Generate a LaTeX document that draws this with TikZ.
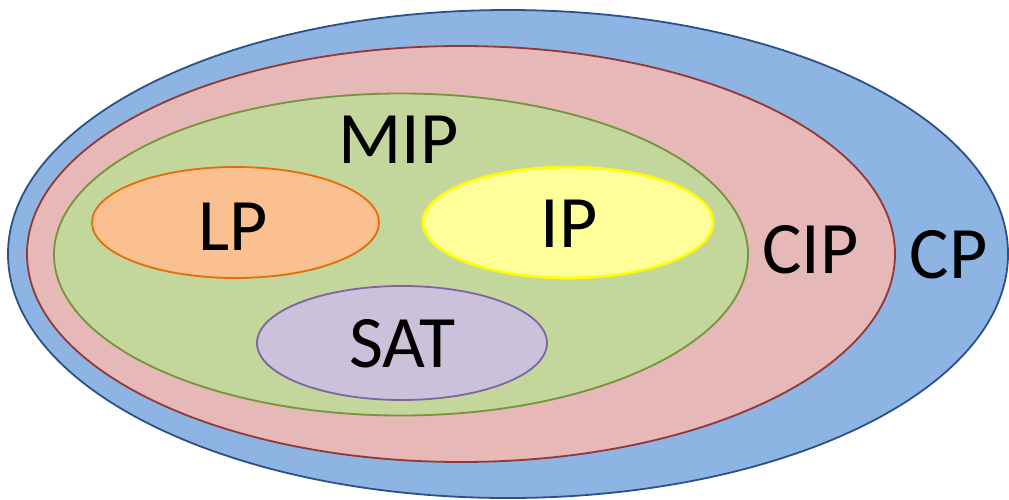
\documentclass[tikz,border=0pt]{standalone}
\usepackage{fontspec}
\setmainfont{Carlito}
\usetikzlibrary{shapes.geometric}
\definecolor{cpfill}{HTML}{8EB4E3}
\definecolor{cpline}{HTML}{2A5288}
\definecolor{cipfill}{HTML}{E6B8B7}
\definecolor{cipline}{HTML}{953735}
\definecolor{mipfill}{HTML}{C3D69B}
\definecolor{mipline}{HTML}{77933C}
\definecolor{lpfill}{HTML}{FAC090}
\definecolor{lpline}{HTML}{E46C0A}
\definecolor{ipfill}{HTML}{FFFF99}
\definecolor{ipline}{HTML}{FFFF00}
\definecolor{satfill}{HTML}{CCC1DA}
\definecolor{satline}{HTML}{8064A2}
\tikzset{
  setshape/.style n args={4}{ellipse, inner sep=0pt, minimum width=#1pt, minimum height=#2pt, fill=#3, draw=#4, line width=1.8pt},
  setlabel/.style={anchor=base, inner sep=0pt, font=\fontsize{74}{80}\selectfont}
}
\begin{document}
\begin{tikzpicture}[x=1pt,y=-1pt]
\useasboundingbox (0,0) rectangle (1009,499);
\node[setshape={1000}{488}{cpfill}{cpline}] (cp) at (508,254) {};
\node[setshape={868}{416}{cipfill}{cipline}] (cip) at (461,254) {};
\node[setshape={694}{322}{mipfill}{mipline}] (mip) at (401,254.5) {};
\node[setshape={287}{111}{lpfill}{lpline}] (lp) at (235.5,222.5) {};
\node[setshape={290}{111}{ipfill}{ipline}, line width=2.6pt] (ip) at (568,222.5) {};
\node[setshape={290}{114}{satfill}{satline}] (sat) at (402,343) {};
\node[setlabel] (cplabel) at (948.5,278) {CP};
\node[setlabel] (ciplabel) at (810.5,273) {CIP};
\node[setlabel] (miplabel) at (398.5,163) {MIP};
\node[setlabel] (lplabel) at (233.5,250) {LP};
\node[setlabel] (iplabel) at (569,247) {IP};
\node[setlabel] (satlabel) at (402.5,367) {SAT};
\end{tikzpicture}
\end{document}
